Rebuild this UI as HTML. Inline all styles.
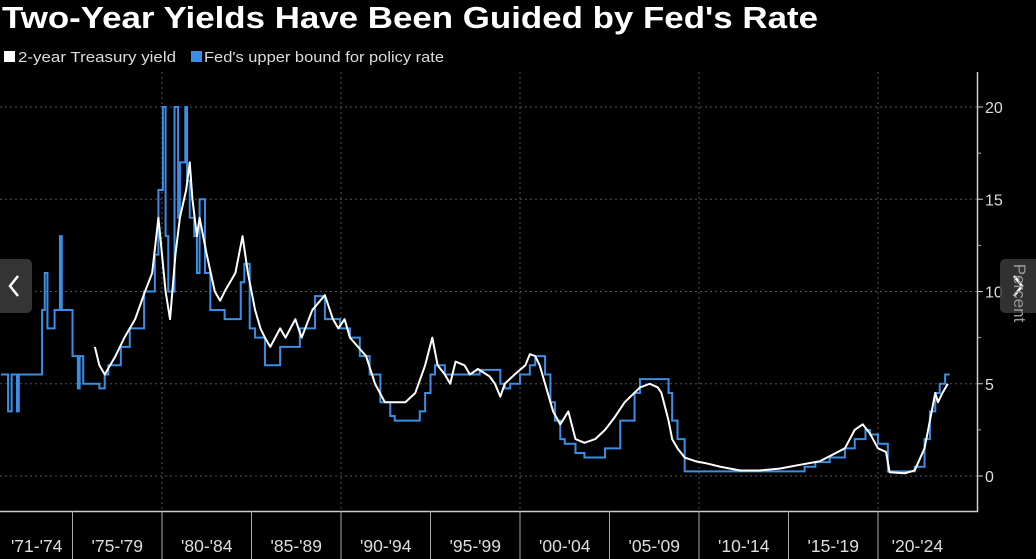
<!DOCTYPE html>
<html><head><meta charset="utf-8"><style>
html,body{margin:0;padding:0;background:#000;width:1036px;height:559px;overflow:hidden}
svg{display:block;font-family:"Liberation Sans",sans-serif}
</style></head><body>
<svg id="c" width="1036" height="559">
<text x="2" y="28" font-size="31" font-weight="bold" fill="#fff" textLength="816" lengthAdjust="spacingAndGlyphs">Two-Year Yields Have Been Guided by Fed's Rate</text>
<g>
<rect x="4" y="51" width="11" height="11" fill="#fff"/>
<text x="18" y="62" font-size="15" fill="#ddd" textLength="158" lengthAdjust="spacingAndGlyphs">2-year Treasury yield</text>
<rect x="191" y="51" width="11" height="11" fill="#3a8ee6"/>
<text x="204" y="62" font-size="15" fill="#ddd" textLength="240" lengthAdjust="spacingAndGlyphs">Fed's upper bound for policy rate</text>
</g>
<g id="grid"></g><g id="axes"></g><g id="series"></g>
<g><rect x="-6" y="259" width="38" height="54" rx="5" fill="#3a3a3a" opacity="0.9"/><path d="M18 276 L10 286 L18 296" stroke="#fff" stroke-width="2.5" fill="none"/></g>
<g><rect x="1000" y="259" width="42" height="54" rx="5" fill="#3a3a3a" opacity="0.85"/><path d="M1014 276 L1022 286 L1014 296" stroke="#fff" stroke-width="2.5" fill="none"/></g>
<text transform="translate(1014,293) rotate(90)" font-size="17" fill="#999" text-anchor="middle">Percent</text>
</svg>
<script>
const yTicks=[0,5,10,15,20];
const periods=["'71-'74","'75-'79","'80-'84","'85-'89","'90-'94","'95-'99","'00-'04","'05-'09","'10-'14","'15-'19","'20-'24"];
const periodBounds=[1971,1975,1980,1985,1990,1995,2000,2005,2010,2015,2020,2025.5];
const gridYears=[1980,1990,2000,2010,2020];
const fedDates=[1971.0,1971.4,1971.6,1971.9,1972.0,1973.3,1973.45,1973.6,1974.0,1974.3,1974.4,1975.0,1975.3,1975.4,1975.6,1976.5,1976.8,1977.0,1977.7,1978.2,1979.0,1979.6,1979.8,1980.05,1980.2,1980.35,1980.7,1980.9,1981.0,1981.3,1981.4,1981.55,1981.8,1981.95,1982.1,1982.4,1982.7,1983.5,1984.4,1984.6,1984.9,1985.2,1985.75,1986.6,1987.7,1988.55,1989.1,1989.95,1990.5,1991.05,1991.6,1992.2,1992.75,1993.0,1994.4,1994.7,1995.0,1995.25,1995.8,1997.75,1998.9,1999.15,1999.45,2000.0,2000.55,2000.85,2001.4,2001.7,2001.95,2002.25,2002.5,2003.1,2003.6,2004.75,2005.6,2006.4,2006.7,2008.3,2008.5,2008.8,2009.2,2015.9,2016.5,2017.3,2018.15,2018.7,2019.3,2019.55,2020.0,2020.55,2022.05,2022.6,2022.9,2023.2,2023.45,2023.75,2024.0];
const fedValues=[5.5,3.5,5.5,3.5,5.5,9,11,8,9,13,9,6.5,4.75,6.5,5,4.75,5.5,6,7,8,10,12,15.5,20,13,10,20,14,17,20,16,14,13,11,15,11,9,8.5,10.5,11.5,8,7.5,6,7,8,9.75,8.5,8,7.5,6.5,5.5,4,3.25,3,3.5,4.5,5.5,6,5.5,5.75,5,4.75,5,5.5,6,6.5,5.5,4,3,2,1.75,1.25,1,1.5,3,4.5,5.25,4.5,3,2,0.25,0.5,0.75,1,1.5,2,2.5,2.25,1.75,0.25,0.5,2,3.5,4.5,5,5.5,5.5];
const yieldDates=[1976.25,1976.5,1976.8,1977.4,1977.9,1978.5,1979.05,1979.45,1979.8,1980.0,1980.2,1980.45,1980.75,1981.0,1981.35,1981.55,1981.7,1981.95,1982.1,1982.5,1982.95,1983.25,1983.5,1984.1,1984.5,1984.8,1985.2,1985.5,1985.75,1986.05,1986.6,1986.9,1987.45,1987.8,1988.4,1989.1,1989.55,1989.85,1990.2,1990.5,1990.95,1991.4,1991.9,1992.45,1993.0,1993.6,1994.15,1994.7,1995.1,1995.4,1995.8,1996.1,1996.4,1996.9,1997.2,1997.65,1998.3,1998.6,1998.9,1999.15,1999.7,2000.3,2000.55,2000.85,2001.1,2001.4,2001.85,2002.25,2002.7,2003.1,2003.6,2004.2,2004.75,2005.3,2005.85,2006.7,2007.25,2007.7,2007.9,2008.3,2008.5,2008.8,2009.2,2009.8,2010.35,2011.2,2012.3,2013.4,2014.5,2015.6,2016.75,2018.15,2018.7,2019.15,2019.55,2020.0,2020.45,2020.65,2021.5,2022.05,2022.6,2022.9,2023.2,2023.35,2023.6,2023.9];
const yieldValues=[7,6,5.5,6.5,7.5,8.5,10,11,14,12,10,8.5,12,14,15.5,17,15,13,14,12,10,9.5,10,11,13,11,9,8,7.5,7,8,7.5,8.5,7.5,9,9.8,8.5,8,8.5,7.5,7,6.5,5,4,4,4,4.5,6,7.5,6,5.5,5,6.2,6,5.5,5.8,5.4,5,4.3,5,5.5,6,6.6,6.5,6,5,3.5,2.8,3.5,2,1.8,2,2.5,3.2,4,4.8,5,4.8,4.5,3,2,1.5,1,0.8,0.7,0.5,0.3,0.3,0.4,0.6,0.8,1.5,2.5,2.8,2.3,1.5,1.3,0.2,0.15,0.3,1.5,3,4.5,4,4.5,5];

const NS='http://www.w3.org/2000/svg';
const X=yr=>162+(yr-1980)*17.9;
const Y=v=>476-v*18.45;
function mk(tag,attrs,parent){const e=document.createElementNS(NS,tag);for(const k in attrs)e.setAttribute(k,attrs[k]);parent.appendChild(e);return e;}
const grid=document.getElementById('grid'),axes=document.getElementById('axes'),series=document.getElementById('series');
yTicks.forEach(t=>{
  const l=mk('line',{x1:0,x2:977,y1:Y(t),y2:Y(t),stroke:'#555','stroke-dasharray':'2,3','stroke-width':1},grid);
  
  
  const tk=mk('line',{x1:977,x2:983,y1:Y(t),y2:Y(t),stroke:'#ccc'},axes);
  
  
  const tx=mk('text',{x:985,y:Y(t)+6,'font-size':16,fill:'#ddd'},axes);
  tx.textContent=t;
  
  
  if(t<20){const m=mk('line',{x1:977,x2:981,y1:Y(t+2.5),y2:Y(t+2.5),stroke:'#aaa'},axes);
  
  }
});
gridYears.forEach(g=>{
  const l=mk('line',{x1:X(g),x2:X(g),y1:72,y2:511,stroke:'#555','stroke-dasharray':'2,3'},grid);
  
  
});
const ax=mk('path',{d:'M0 511.5 H977.5 V72',stroke:'#ccc','stroke-width':1.5,fill:'none'},axes);


periods.forEach((p,i)=>{
  const a=X(periodBounds[i]),b=X(periodBounds[i+1]);
  if(i>0){const s=mk('line',{x1:a,x2:a,y1:511,y2:559,stroke:'#aaa'},axes);
  
  }
  const c=i===periods.length-1?X(2022.2):(a+b)/2;
  const t=mk('text',{x:c,y:552,'font-size':17.5,fill:'#ddd','text-anchor':'middle'},axes);
  t.textContent=p;
  
  
});
let d='';
fedDates.forEach((dt,i)=>{const x=X(dt),y=Y(fedValues[i]);if(i===0)d='M'+x+' '+y;else d+=' H'+x+' V'+y;});
const fed=mk('path',{d:d,stroke:'#3a8ee6','stroke-width':2,fill:'none'},series);


const yl=mk('polyline',{points:yieldDates.map((dt,i)=>X(dt)+','+Y(yieldValues[i])).join(' '),stroke:'#fff','stroke-width':2,fill:'none','stroke-linejoin':'round'},series);


</script>
</body></html>
